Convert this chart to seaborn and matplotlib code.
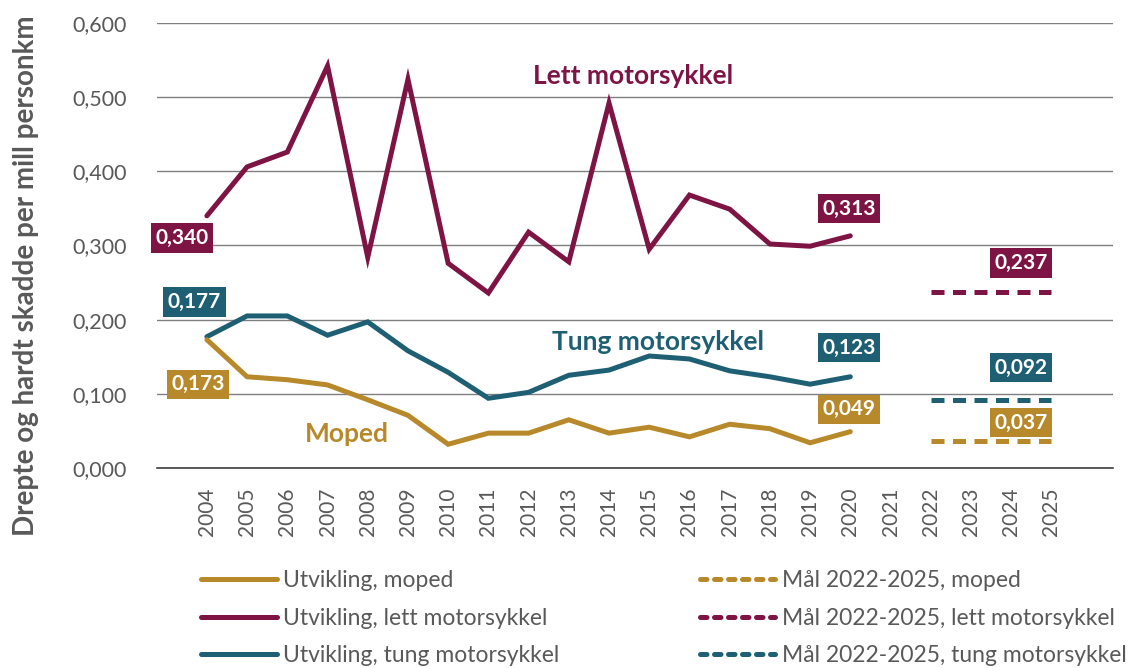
import numpy as np
import pandas as pd
import matplotlib.pyplot as plt
import seaborn as sns
from matplotlib.lines import Line2D

years = list(range(2004, 2021))
moped = [0.173, 0.123, 0.119, 0.112, 0.092, 0.071, 0.032, 0.047, 0.047,
         0.065, 0.047, 0.055, 0.042, 0.059, 0.053, 0.034, 0.049]
lett = [0.340, 0.406, 0.426, 0.542, 0.284, 0.524, 0.276, 0.236, 0.318,
        0.278, 0.492, 0.295, 0.368, 0.349, 0.302, 0.299, 0.313]
tung = [0.177, 0.205, 0.205, 0.179, 0.197, 0.158, 0.129, 0.094, 0.102,
        0.125, 0.132, 0.151, 0.147, 0.131, 0.123, 0.113, 0.123]

goal_years = [2022, 2023, 2024, 2025]
goal_moped = [0.037] * 4
goal_lett = [0.237] * 4
goal_tung = [0.092] * 4

tick_years = list(range(2004, 2026))
yticks = [0, 0.1, 0.2, 0.3, 0.4, 0.5, 0.6]

c_moped = "#B8892A"
c_lett = "#7D1443"
c_tung = "#1E5F74"
grey = "#595959"

sns.set_style("white")
plt.rcParams["font.family"] = ["Lato", "DejaVu Sans"]

fig = plt.figure(figsize=(11.42, 6.68), dpi=100)
ax = fig.add_axes([0.1375, 0.2994, 0.837, 0.6662])

dev = pd.DataFrame({"year": years, "moped": moped, "lett": lett, "tung": tung})
goal = pd.DataFrame({"year": goal_years, "moped": goal_moped, "lett": goal_lett, "tung": goal_tung})

lw = 3.6
for col, c in [("lett", c_lett), ("tung", c_tung), ("moped", c_moped)]:
    sns.lineplot(data=dev, x="year", y=col, color=c, lw=lw, ax=ax,
                 solid_capstyle="round", solid_joinstyle="miter")
    ln = sns.lineplot(data=goal, x="year", y=col, color=c, lw=lw, ax=ax)
    ln.lines[-1].set_dashes((2.6, 1.7))

ax.set_xlim(2002.76, 2026.53)
ax.set_ylim(0, 0.6)
ax.set_xticks(tick_years)
ax.set_xticklabels([str(y) for y in tick_years], rotation=90, fontsize=15, color=grey)
ax.set_yticks(yticks)
ax.set_yticklabels([f"{v:.3f}".replace(".", ",") for v in yticks], fontsize=15.5, color=grey)
ax.tick_params(axis="y", length=0, pad=22)
ax.tick_params(axis="x", length=0, pad=14)
ax.grid(axis="y", color="#7f7f7f", lw=1.0)
ax.set_axisbelow(True)
for s in ["left", "right", "top"]:
    ax.spines[s].set_visible(False)
ax.spines["bottom"].set_color("#404040")
ax.spines["bottom"].set_linewidth(1.2)
ax.set_xlabel("")
ax.set_ylabel("")
fig.text(26 / 1142, 1 - 276 / 668, "Drepte og hardt skadde per mill personkm",
         rotation=90, ha="center", va="center", fontsize=20,
         fontweight="bold", color=grey)


def box(x, y, val, c, dx, dy):
    ax.annotate(f"{val:.3f}".replace(".", ","), (x, y), xytext=(dx, dy),
                textcoords="offset points", ha="center", va="center",
                fontsize=15, fontweight="bold", color="white",
                bbox=dict(boxstyle="square,pad=0.22", fc=c, ec="none"))


box(years[0], lett[0], lett[0], c_lett, -18, -16)
box(years[0], tung[0], tung[0], c_tung, -9, 25)
box(years[0], moped[0], moped[0], c_moped, -6.5, -32)
box(years[-1], lett[-1], lett[-1], c_lett, -1, 19.5)
box(years[-1], tung[-1], tung[-1], c_tung, -1, 21)
box(years[-1], moped[-1], moped[-1], c_moped, -1, 16)
box(goal_years[-1], goal_lett[-1], goal_lett[-1], c_lett, -22, 21)
box(goal_years[-1], goal_tung[-1], goal_tung[-1], c_tung, -22, 23)
box(goal_years[-1], goal_moped[-1], goal_moped[-1], c_moped, -22, 13)

ax.annotate("Lett motorsykkel", (2014, lett[10]), xytext=(17, 19.5), textcoords="offset points",
            ha="center", va="center", fontsize=19, fontweight="bold", color=c_lett)
ax.annotate("Tung motorsykkel", (2015, tung[11]), xytext=(6, 10), textcoords="offset points",
            ha="center", va="center", fontsize=19, fontweight="bold", color=c_tung)
ax.annotate("Moped", (2007, moped[3]), xytext=(14, -35), textcoords="offset points",
            ha="center", va="center", fontsize=19, fontweight="bold", color=c_moped)

handles = [
    Line2D([], [], color=c_moped, lw=lw, solid_capstyle="round"),
    Line2D([], [], color=c_lett, lw=lw, solid_capstyle="round"),
    Line2D([], [], color=c_tung, lw=lw, solid_capstyle="round"),
    Line2D([], [], color=c_moped, lw=lw, dashes=(1.3, 1.5), dash_capstyle="round"),
    Line2D([], [], color=c_lett, lw=lw, dashes=(1.3, 1.5), dash_capstyle="round"),
    Line2D([], [], color=c_tung, lw=lw, dashes=(1.3, 1.5), dash_capstyle="round"),
]
labels = ["Utvikling, moped", "Utvikling, lett motorsykkel", "Utvikling, tung motorsykkel",
          "Mål 2022-2025, moped", "Mål 2022-2025, lett motorsykkel", "Mål 2022-2025, tung motorsykkel"]
leg = fig.legend(handles, labels, ncol=2, loc="upper left", bbox_to_anchor=(0.176, 0.146),
                 frameon=False, fontsize=16.5, handlelength=3.3, handletextpad=0.3,
                 columnspacing=6.1, labelspacing=0.72, borderaxespad=0, borderpad=0)
for t in leg.get_texts():
    t.set_color(grey)

fig.savefig("out.png", dpi=100)
